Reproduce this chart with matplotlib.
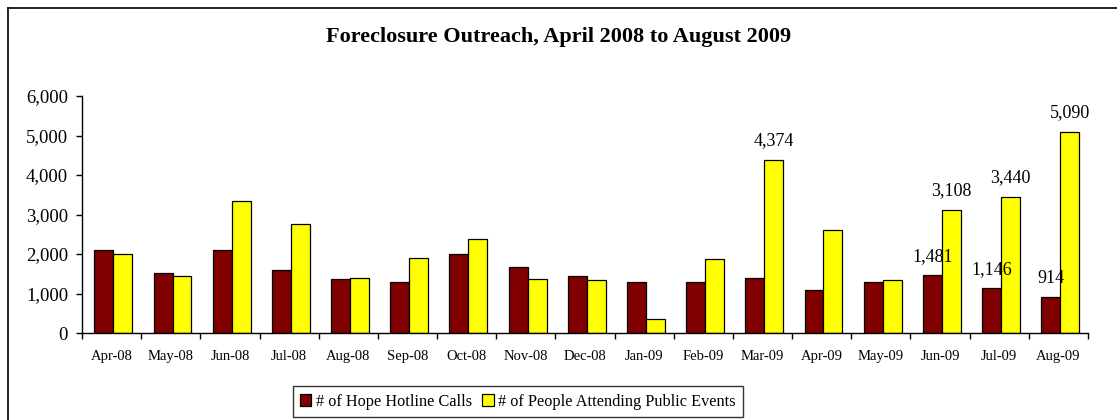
import matplotlib
matplotlib.use("Agg")
import matplotlib.pyplot as plt
from matplotlib.lines import Line2D
import numpy as np

months = ["Apr-08", "May-08", "Jun-08", "Jul-08", "Aug-08", "Sep-08", "Oct-08",
          "Nov-08", "Dec-08", "Jan-09", "Feb-09", "Mar-09", "Apr-09", "May-09",
          "Jun-09", "Jul-09", "Aug-09"]
hotline_calls = [2100, 1530, 2100, 1600, 1370, 1295, 2000, 1675, 1445, 1295,
                 1295, 1405, 1095, 1295, 1481, 1146, 914]
public_events = [1995, 1450, 3350, 2770, 1405, 1910, 2380, 1365, 1330, 360,
                 1875, 4374, 2610, 1330, 3108, 3440, 5090]
labeled_hotline = ["Jun-09", "Jul-09", "Aug-09"]
labeled_events = ["Mar-09", "Jun-09", "Jul-09", "Aug-09"]
series_names = ["# of Hope Hotline Calls", "# of People Attending Public Events"]
title = "Foreclosure Outreach, April 2008 to August 2009"

plt.rcParams["font.family"] = ["Liberation Serif", "DejaVu Serif"]

fig = plt.figure(figsize=(11.17, 4.20), dpi=100)
ax = fig.add_axes([82 / 1117, 1 - 333 / 420, (1088 - 82) / 1117, (333 - 96) / 420])

x = np.arange(len(months))
w = 0.32
b1 = ax.bar(x - w / 2 + 0.03, hotline_calls, w, color="#800000", edgecolor="black",
            linewidth=0.9, label=series_names[0])
b2 = ax.bar(x + w / 2 + 0.03, public_events, w, color="#FFFF00", edgecolor="black",
            linewidth=0.9, label=series_names[1])

for i, m in enumerate(months):
    if m in labeled_hotline:
        ax.annotate(f"{hotline_calls[i]:,}", (x[i] - w / 2 + 0.03, hotline_calls[i]),
                    xytext=(0, 10), textcoords="offset points", ha="center",
                    va="baseline", fontsize=13)
    if m in labeled_events:
        ax.annotate(f"{public_events[i]:,}", (x[i] + w / 2 + 0.03, public_events[i]),
                    xytext=(0, 11), textcoords="offset points", ha="center",
                    va="baseline", fontsize=13)

ax.set_xlim(-0.5, len(months) - 0.5)
ax.set_ylim(0, 6000)
ax.set_yticks(np.arange(0, 6001, 1000))
ax.set_yticklabels([f"{v:,}" for v in range(0, 6001, 1000)], fontsize=13.5)
ax.set_xticks(x)
ax.set_xticklabels(months, fontsize=10.5)
ax.set_xticks(np.arange(-0.5, len(months), 1), minor=True)
ax.tick_params(axis="x", which="major", length=0, pad=12)
ax.tick_params(axis="x", which="minor", length=4, width=1, direction="out")
ax.tick_params(axis="y", length=4, width=1, direction="out", pad=6)
for s in ["top", "right"]:
    ax.spines[s].set_visible(False)
for s in ["left", "bottom"]:
    ax.spines[s].set_linewidth(1.0)

fig.text(0.5, 1 - 37 / 420, title, ha="center", va="center", fontsize=16,
         fontweight="bold")

leg = fig.legend(handles=[b1, b2], loc="center", bbox_to_anchor=(518 / 1117, 1 - 401.5 / 420),
                 ncol=2, fontsize=11.7, frameon=True, fancybox=False,
                 handlelength=0.7, handleheight=0.7, handletextpad=0.3,
                 columnspacing=0.6, borderpad=0.45, borderaxespad=0)
leg.get_frame().set_edgecolor("black")
leg.get_frame().set_linewidth(1.0)

# outer border (top and left visible)
fig.add_artist(Line2D([8 / 1117, 8 / 1117], [0, 1 - 8 / 420], color="black",
                      linewidth=1.2, transform=fig.transFigure))
fig.add_artist(Line2D([8 / 1117, 1], [1 - 8 / 420, 1 - 8 / 420], color="black",
                      linewidth=1.2, transform=fig.transFigure))

fig.savefig("out.png", dpi=100)
